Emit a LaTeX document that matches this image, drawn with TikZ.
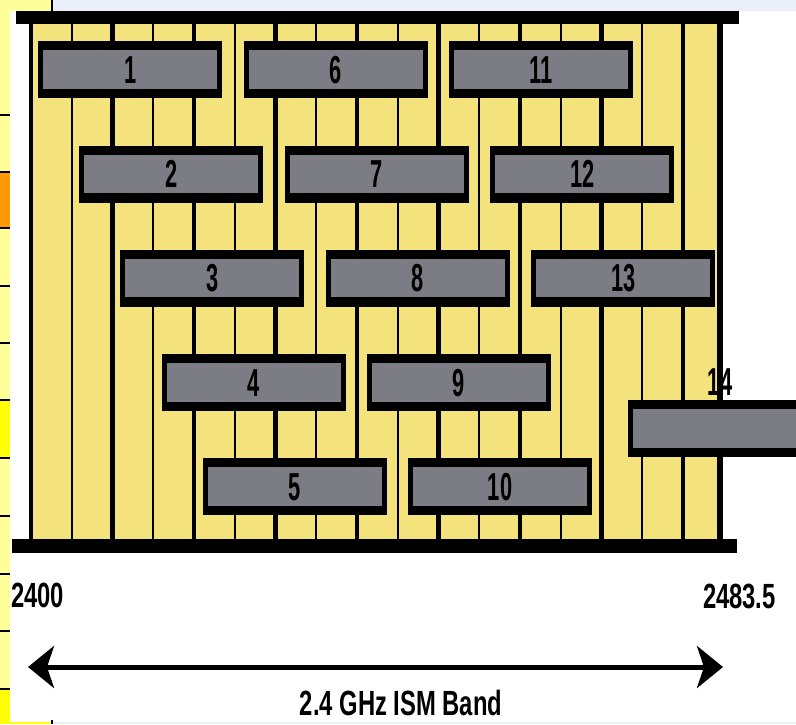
\documentclass[tikz,border=0pt]{standalone}
\usepackage{fontspec}
\usetikzlibrary{arrows.meta}
\newfontfamily\boxfont[FakeStretch=0.56]{Liberation Sans}
\newfontfamily\axisfont[FakeStretch=0.68]{Liberation Sans}
\definecolor{bandyel}{RGB}{244,226,125}
\definecolor{chgray}{RGB}{124,124,132}
\definecolor{paleyel}{RGB}{255,255,153}
\definecolor{slideblue}{RGB}{234,239,250}
\definecolor{slideorange}{RGB}{255,153,0}
\definecolor{slideyel}{RGB}{255,255,0}
\begin{document}
\begin{tikzpicture}[x=1pt,y=-1pt,
  chan/.style={fill=black, minimum width=184pt, minimum height=57pt, inner sep=0pt, anchor=north west,
    path picture={\fill[chgray] ([xshift=5pt,yshift=-9pt]path picture bounding box.north west) rectangle ([xshift=-5pt,yshift=9.5pt]path picture bounding box.south east);},
    font=\boxfont\bfseries\fontsize{39}{39}\selectfont},
  chlabel/.style={inner sep=0pt, font=\boxfont\bfseries\fontsize{39}{39}\selectfont},
  thickline/.style={line width=4.5pt},
  thinline/.style={line width=2.2pt},
  slideline/.style={line width=1.5pt},
  axislabel/.style={inner sep=0pt, font=\axisfont\bfseries\fontsize{35}{35}\selectfont},
  band arrow/.style={line width=5pt, {Stealth[length=26pt,width=42pt,inset=7pt]}-{Stealth[length=26pt,width=42pt,inset=7pt]}},
]
\useasboundingbox (0,0) rectangle (796,724);
\fill[white] (0,0) rectangle (796,724);
% slide remnants
\fill[slideblue] (52,0) rectangle (796,11);
\fill[paleyel] (0,0) rectangle (52,11);
\draw[slideline] (52,0) -- (52,11);
\fill[paleyel] (0,11) rectangle (10,724);
\fill[slideorange] (0,172) rectangle (10,228);
\fill[slideyel] (0,400) rectangle (10,458);
\fill[slideyel] (0,689) rectangle (10,724);
\foreach \yy in {115,172,228,286,343,400,458,516,574,631,689}
  \draw[slideline] (0,\yy) -- (10,\yy);
% band
\fill[bandyel] (30,24) rectangle (720,539);
\foreach \k in {0,2,...,16}
  \draw[thickline] ({31+40.75*\k},24) -- ({31+40.75*\k},539);
\foreach \k in {1,3,...,15}
  \draw[thinline] ({31+40.75*\k},24) -- ({31+40.75*\k},539);
\draw[line width=6pt] (719.7,24) -- (719.7,539);
\fill[black] (16,11) rectangle (739,24);
\fill[black] (12,539) rectangle (737,553);
% channels
\foreach \k in {1,...,13}
  \node[chan] (c\k) at ({38+41.1*(\k-1)},{41+104.3*mod(\k-1,5)}) {\k};
\node[chan] (c14) at (628,400) {};
\node[chlabel, anchor=base] (l14) at (720,395) {14};
% axis
\node[axislabel, anchor=base west] (f0) at (11,607) {2400};
\node[axislabel, anchor=base east] (f1) at (776,608) {2483.5};
\coordinate (aL) at (28,667);
\coordinate (aR) at (723,667);
\draw[band arrow] (aL) -- (aR);
\node[axislabel, anchor=base] (band) at (401,715) {2.4 GHz ISM Band};
% bottom slide strip
\fill[slideblue] (52,721.5) rectangle (796,724);
\fill[slideyel] (0,721.5) rectangle (50,724);
\draw[slideline] (52,720) -- (52,724);
\end{tikzpicture}
\end{document}
